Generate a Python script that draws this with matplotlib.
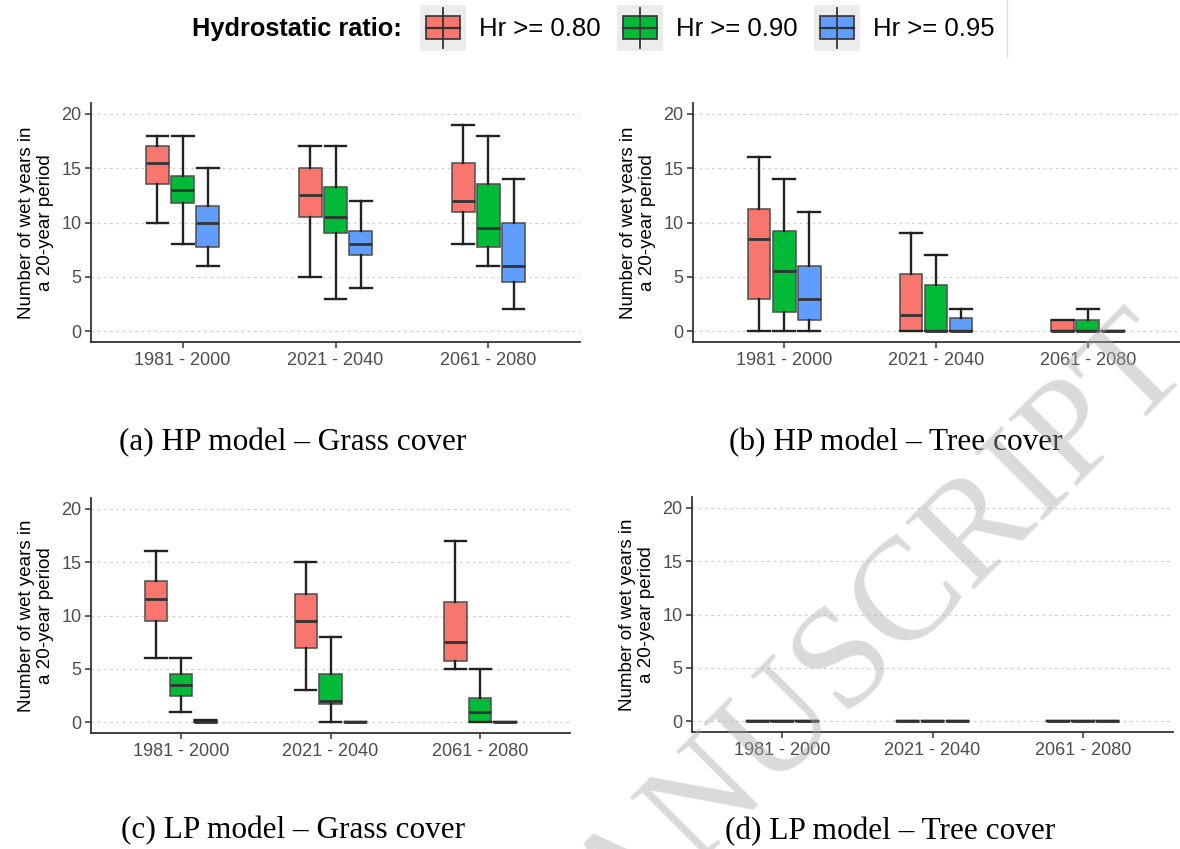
import matplotlib
matplotlib.use("Agg")
import matplotlib.pyplot as plt
from matplotlib.patches import Rectangle

# ---------------- data ----------------
periods = ["1981 - 2000", "2021 - 2040", "2061 - 2080"]
series = ["Hr >= 0.80", "Hr >= 0.90", "Hr >= 0.95"]
series_colors = ["#F8766D", "#00BA38", "#619CFF"]

# rows = series (0.80, 0.90, 0.95), columns = periods
hp_grass_lo  = [[10, 5, 8], [8, 3, 6], [6, 4, 2]]
hp_grass_q1  = [[13.5, 10.5, 11], [11.75, 9, 7.75], [7.75, 7, 4.5]]
hp_grass_med = [[15.5, 12.5, 12], [13, 10.5, 9.5], [10, 8, 6]]
hp_grass_q3  = [[17, 15, 15.5], [14.25, 13.25, 13.5], [11.5, 9.25, 10]]
hp_grass_hi  = [[18, 17, 19], [18, 17, 18], [15, 12, 14]]

hp_tree_lo  = [[0, 0, 0], [0, 0, 0], [0, 0, 0]]
hp_tree_q1  = [[3, 0, 0], [1.75, 0, 0], [1, 0, 0]]
hp_tree_med = [[8.5, 1.5, 0], [5.5, 0, 0], [3, 0, 0]]
hp_tree_q3  = [[11.25, 5.25, 1], [9.25, 4.25, 1], [6, 1.25, 0]]
hp_tree_hi  = [[16, 9, 1], [14, 7, 2], [11, 2, 0]]

lp_grass_lo  = [[6, 3, 5], [1, 0, 0], [0, 0, 0]]
lp_grass_q1  = [[9.5, 7, 5.75], [2.5, 1.75, 0], [0, 0, 0]]
lp_grass_med = [[11.5, 9.5, 7.5], [3.5, 2, 1], [0, 0, 0]]
lp_grass_q3  = [[13.25, 12, 11.25], [4.5, 4.5, 2.25], [0.25, 0, 0]]
lp_grass_hi  = [[16, 15, 17], [6, 8, 5], [0.25, 0, 0]]

lp_tree_lo  = [[0, 0, 0], [0, 0, 0], [0, 0, 0]]
lp_tree_q1  = [[0, 0, 0], [0, 0, 0], [0, 0, 0]]
lp_tree_med = [[0, 0, 0], [0, 0, 0], [0, 0, 0]]
lp_tree_q3  = [[0, 0, 0], [0, 0, 0], [0, 0, 0]]
lp_tree_hi  = [[0, 0, 0], [0, 0, 0], [0, 0, 0]]

yticks = [0, 5, 10, 15, 20]
ylabel = "Number of wet years in\na 20-year period"
legend_title = "Hydrostatic ratio:"
captions = ["(a) HP model \u2013 Grass cover", "(b) HP model \u2013 Tree cover",
            "(c) LP model \u2013 Grass cover", "(d) LP model \u2013 Tree cover"]
watermark = "ACCEPTED MANUSCRIPT"

panels = [
    (hp_grass_lo, hp_grass_q1, hp_grass_med, hp_grass_q3, hp_grass_hi),
    (hp_tree_lo, hp_tree_q1, hp_tree_med, hp_tree_q3, hp_tree_hi),
    (lp_grass_lo, lp_grass_q1, lp_grass_med, lp_grass_q3, lp_grass_hi),
    (lp_tree_lo, lp_tree_q1, lp_tree_med, lp_tree_q3, lp_tree_hi),
]

# ---------------- layout (pixels) ----------------
W, H = 1180, 849
plt.rcParams["font.family"] = ["Liberation Sans", "DejaVu Sans"]
fig = plt.figure(figsize=(W / 100, H / 100), dpi=100)

boxes_px = [(91, 580, 103, 342), (693, 1179, 103, 342),
            (91, 570, 498, 733), (692, 1173, 497, 732)]
caption_px = [(293, 443), (896, 443), (293, 831), (890, 832)]

offsets = [-0.165, 0.0, 0.165]
bw = 0.15

for (l, r, t, b), (lo, q1, med, q3, hi) in zip(boxes_px, panels):
    ax = fig.add_axes([l / W, 1 - b / H, (r - l) / W, (b - t) / H])
    ax.set_axisbelow(True)
    for s in range(len(series)):
        stats = []
        pos = []
        for p in range(len(periods)):
            stats.append(dict(med=med[s][p], q1=q1[s][p], q3=q3[s][p],
                              whislo=lo[s][p], whishi=hi[s][p], fliers=[]))
            pos.append(p + 1 + offsets[s])
        ax.bxp(stats, positions=pos, widths=bw, capwidths=bw * 0.95,
               patch_artist=True, showfliers=False,
               boxprops=dict(facecolor=series_colors[s], edgecolor="#4d4d4d", linewidth=1.1),
               medianprops=dict(color="#333333", linewidth=2.0),
               whiskerprops=dict(color="#222222", linewidth=1.7),
               capprops=dict(color="#222222", linewidth=1.7),
               manage_ticks=False)
    ax.set_xlim(0.4, 3.6)
    ax.set_ylim(-1, 21)
    ax.set_xticks([1, 2, 3])
    ax.set_xticklabels(periods)
    ax.set_yticks(yticks)
    ax.tick_params(axis="both", labelsize=13, labelcolor="#4d4d4d", color="#333333",
                   length=4, width=1.1, pad=3)
    ax.yaxis.grid(True, color="#cfcfcf", linestyle=(0, (2, 3)), linewidth=0.9)
    for sp in ["top", "right"]:
        ax.spines[sp].set_visible(False)
    for sp in ["left", "bottom"]:
        ax.spines[sp].set_color("#333333")
        ax.spines[sp].set_linewidth(1.3)
    ax.set_ylabel(ylabel, fontsize=13.5, color="black", linespacing=1.15)
    ax.yaxis.set_label_coords(-37 / (r - l), 0.5)

# ---------------- overlay: legend, captions, watermark ----------------
ov = fig.add_axes([0, 0, 1, 1])
ov.set_xlim(0, W)
ov.set_ylim(H, 0)
ov.axis("off")

ov.text(192, 29, legend_title, fontsize=18.3, fontweight="bold", ha="left", va="center")
key_x = [420, 617, 814]
for kx, col, lab in zip(key_x, series_colors, series):
    ov.add_patch(Rectangle((kx, 5), 46, 46, facecolor="#ececec", edgecolor="none"))
    ov.plot([kx + 23, kx + 23], [8, 48], color="#333333", lw=1.3)
    ov.add_patch(Rectangle((kx + 6, 16), 34, 23, facecolor=col, edgecolor="#333333", lw=1.2))
    ov.plot([kx + 6, kx + 40], [28, 28], color="#333333", lw=1.6)
    ov.text(kx + 59, 29, lab, fontsize=18.5, ha="left", va="center")
ov.plot([1007, 1007], [0, 57], color="#dddddd", lw=1)

for (cx, cy), txt in zip(caption_px, captions):
    ov.text(cx, cy, txt, fontsize=22.5, ha="center", va="center",
            family=["Liberation Serif", "DejaVu Serif"])

ov.text(1169, 344, watermark, fontsize=105, ha="right", va="center",
        rotation=45, rotation_mode="anchor", color="#a8a8a8", alpha=0.42,
        family=["Liberation Serif", "DejaVu Serif"], zorder=10)

fig.savefig("out.png", dpi=100)
